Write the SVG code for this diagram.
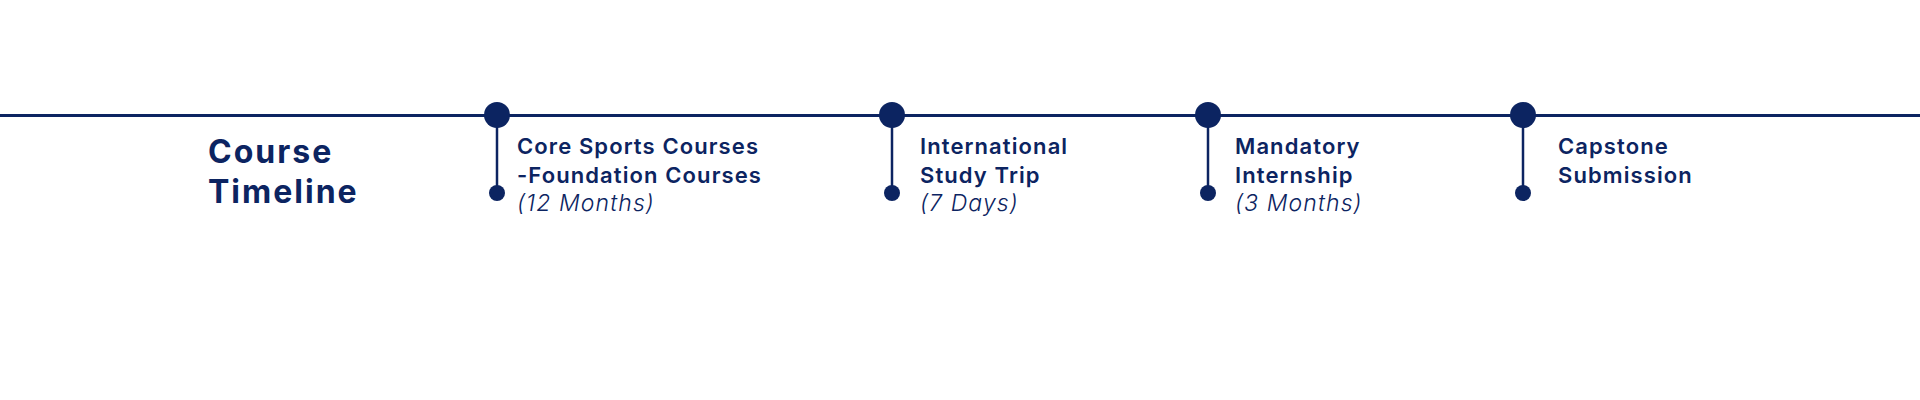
<svg xmlns="http://www.w3.org/2000/svg" width="1920" height="400" viewBox="0 0 1920 400">
<style>
.bg{fill:#ffffff}
.axis{stroke:#0c2461;stroke-width:3;fill:none}
.stem{stroke:#0c2461;stroke-width:2.5;fill:none}
.big{fill:#0c2461}
.small{fill:#0c2461}
.title{font-family:Inter,"Liberation Sans",sans-serif;font-weight:700;font-size:32px;letter-spacing:2px;fill:#0c2461}
.lbl{font-family:Inter,"Liberation Sans",sans-serif;font-weight:600;font-size:22px;letter-spacing:1.1px;fill:#0c2461}
.dur{font-family:Inter,"Liberation Sans",sans-serif;font-weight:300;font-style:italic;font-size:23px;letter-spacing:1.1px;fill:#0c2461}
</style>
<rect class="bg" x="0" y="0" width="1920" height="400"/>
<g id="connectors">
<line class="axis" x1="0" y1="115.5" x2="1920" y2="115.5"/>
<line class="stem" x1="497" y1="115" x2="497" y2="193"/>
<line class="stem" x1="892" y1="115" x2="892" y2="193"/>
<line class="stem" x1="1208" y1="115" x2="1208" y2="193"/>
<line class="stem" x1="1523" y1="115" x2="1523" y2="193"/>
</g>
<g id="title">
<text class="title" x="208" y="163">Course</text>
<text class="title" x="208" y="203">Timeline</text>
</g>
<g id="node1">
<circle class="big" cx="497" cy="115" r="13"/>
<circle class="small" cx="497" cy="193" r="8"/>
<text class="lbl" x="517" y="154">Core Sports Courses</text>
<text class="lbl" x="517" y="183">-Foundation Courses</text>
<text class="dur" x="517" y="211">(12 Months)</text>
</g>
<g id="node2">
<circle class="big" cx="892" cy="115" r="13"/>
<circle class="small" cx="892" cy="193" r="8"/>
<text class="lbl" x="920" y="154">International</text>
<text class="lbl" x="920" y="183">Study Trip</text>
<text class="dur" x="920" y="211">(7 Days)</text>
</g>
<g id="node3">
<circle class="big" cx="1208" cy="115" r="13"/>
<circle class="small" cx="1208" cy="193" r="8"/>
<text class="lbl" x="1235" y="154">Mandatory</text>
<text class="lbl" x="1235" y="183">Internship</text>
<text class="dur" x="1235" y="211">(3 Months)</text>
</g>
<g id="node4">
<circle class="big" cx="1523" cy="115" r="13"/>
<circle class="small" cx="1523" cy="193" r="8"/>
<text class="lbl" x="1558" y="154">Capstone</text>
<text class="lbl" x="1558" y="183">Submission</text>
</g>
</svg>
